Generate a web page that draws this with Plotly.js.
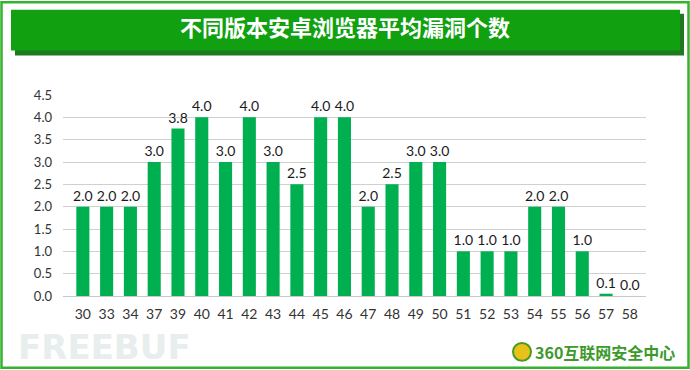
<!DOCTYPE html>
<html>
<head>
<meta charset="utf-8">
<script src="https://cdn.plot.ly/plotly-3.0.1.min.js"></script>
<style>
html,body{margin:0;padding:0;background:#fff;}
#chart{width:690px;height:370px;}
</style>
</head>
<body>
<div id="chart"></div>
<script>
const versions = ['30','33','34','37','39','40','41','42','43','44','45','46','47','48','49','50','51','52','53','54','55','56','57','58'];
const avgVulns = [2.0,2.0,2.0,3.0,3.75,4.0,3.0,4.0,3.0,2.5,4.0,4.0,2.0,2.5,3.0,3.0,1.0,1.0,1.0,2.0,2.0,1.0,0.051,0.0];
const yTicks = [0,0.5,1,1.5,2,2.5,3,3.5,4,4.5];
const titleText = '不同版本安卓浏览器平均漏洞个数';

const W = 690, H = 370;
const L = 63, R = 646, T = 94.5, B = 296;
const px = x => (x - L) / (R - L);
const py = y => (B - y) / (B - T);

const green = '#00B050';

const trace = {
  type: 'bar',
  x: versions,
  y: avgVulns,
  marker: {color: green},
  width: 0.55,
  texttemplate: '%{y:.1f}',
  textposition: 'outside',
  constraintext: 'none',
  textfont: {family: 'Lato, "Liberation Sans", sans-serif', size: 14, color: '#1a1a1a'},
  cliponaxis: false,
  hoverinfo: 'none'
};

const shapes = [
  {type:'rect', xref:'paper', yref:'paper', x0:px(1.5), x1:px(688.5), y0:py(1.5), y1:py(368), line:{color:'#35B22E', width:2.5}, layer:'below'},
  {type:'rect', xref:'paper', yref:'paper', x0:px(15), x1:px(684), y0:py(13), y1:py(55), fillcolor:'#1E7A1E', line:{width:0}, layer:'below'},
  {type:'rect', xref:'paper', yref:'paper', x0:px(11), x1:px(680), y0:py(9), y1:py(50), fillcolor:'#10A010', line:{width:0}, layer:'below'},
  {type:'circle', xref:'paper', yref:'paper', x0:px(513), x1:px(531), y0:py(343), y1:py(361), fillcolor:'#E8C21A', line:{color:'#4A9A20', width:2}, layer:'below'}
];

const annotations = [
  {text:'FREEBUF', xref:'paper', yref:'paper', x:px(16), y:py(347), xanchor:'left', yanchor:'middle', showarrow:false,
   font:{family:'"DejaVu Sans", sans-serif', size:34, color:'#E8EDED', weight:'bold'}},
  {text:'360互联网安全中心', xref:'paper', yref:'paper', x:px(533), y:py(352), xanchor:'left', yanchor:'middle', showarrow:false,
   font:{family:'"Noto Sans CJK SC", sans-serif', size:16, color:'#3C9A2A', weight:'bold'}}
];

const layout = {
  width: W, height: H,
  margin: {l: L, r: W - R, t: T, b: H - B, pad: 0},
  paper_bgcolor: '#ffffff',
  plot_bgcolor: 'rgba(0,0,0,0)',
  showlegend: false,
  title: {
    text: titleText,
    x: 0.5, xref: 'container', xanchor: 'center',
    y: 1 - 28/H, yref: 'container', yanchor: 'middle',
    font: {family: '"Noto Sans CJK SC", sans-serif', size: 22, color: '#ffffff', weight: 'bold'}
  },
  xaxis: {
    type: 'category',
    range: [-0.835, versions.length - 1 + 0.68],
    showgrid: false, zeroline: false, showline: false,
    ticks: '', ticklen: 0,
    ticklabelstandoff: 8,
    tickfont: {family: 'Lato, "Liberation Sans", sans-serif', size: 14, color: '#333333'},
    fixedrange: true
  },
  yaxis: {
    range: [0, 4.5],
    tickvals: yTicks,
    tickformat: '.1f',
    showgrid: true, gridcolor: '#D0D0D0', gridwidth: 1,
    zeroline: true, zerolinecolor: '#C8C8C8', zerolinewidth: 1,
    showline: false, ticks: '',
    ticklabelstandoff: 10,
    tickfont: {family: 'Lato, "Liberation Sans", sans-serif', size: 13, color: '#333333'},
    fixedrange: true
  },
  bargap: 0.45,
  shapes: shapes,
  annotations: annotations
};

Plotly.newPlot('chart', [trace], layout, {displayModeBar: false, staticPlot: true});
</script>
</body>
</html>
